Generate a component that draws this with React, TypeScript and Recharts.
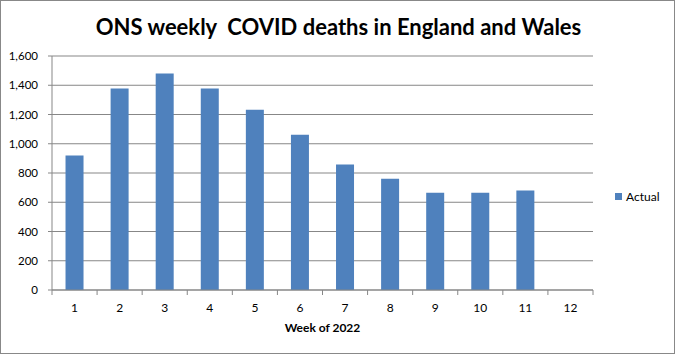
import React from 'react';
import { Bar, BarChart, CartesianGrid, XAxis, YAxis } from 'recharts';

const weeks = ['1', '2', '3', '4', '5', '6', '7', '8', '9', '10', '11', '12'];
const actual: (number | null)[] = [920, 1378, 1480, 1378, 1232, 1062, 858, 760, 665, 665, 680, null];
const yTicks = [0, 200, 400, 600, 800, 1000, 1200, 1400, 1600];
const seriesName = 'Actual';

const data = weeks.map((w, i) => ({ week: w, Actual: actual[i] }));

const FONT = 'Lato, "Open Sans", sans-serif';
const GRID = '#878787';
const BAR = '#4f81bd';
const BAND = (593 - 52) / 12;

function WeekTick(props: any) {
    const { x, y, payload, index } = props;
    const last = index === weeks.length - 1;
    return (
        <g>
            <line x1={x - BAND / 2} x2={x - BAND / 2} y1={y - 8} y2={y - 3} stroke={GRID} />
            {last && <line x1={x + BAND / 2} x2={x + BAND / 2} y1={y - 8} y2={y - 3} stroke={GRID} />}
            <text x={x} y={y + 14} textAnchor="middle" fontSize={12} fill="#000" fontFamily={FONT}>
                {payload.value}
            </text>
        </g>
    );
}

export default function App() {
    return (
        <div
            style={{
                position: 'absolute',
                left: 0,
                top: 0,
                width: 675,
                height: 354,
                border: '1px solid #888',
                boxSizing: 'border-box',
                background: '#fff',
                fontFamily: FONT,
            }}
        >
            <div
                style={{
                    position: 'absolute',
                    left: 0,
                    top: 12,
                    width: 675,
                    textAlign: 'center',
                    fontSize: 22,
                    fontWeight: 'bold',
                    whiteSpace: 'pre',
                    color: '#000',
                }}
            >
                {'ONS weekly  COVID deaths in England and Wales'}
            </div>
            <div style={{ position: 'absolute', left: -1, top: -1 }}>
                <BarChart
                    width={675}
                    height={354}
                    data={data}
                    margin={{ top: 56, right: 82, bottom: 19, left: 0 }}
                    barCategoryGap="30%"
                >
                    <CartesianGrid vertical={false} stroke={GRID} />
                    <XAxis
                        dataKey="week"
                        height={45}
                        axisLine={{ stroke: GRID }}
                        tickLine={false}
                        tick={<WeekTick />}
                        interval={0}
                        label={{
                            value: 'Week of 2022',
                            position: 'insideBottom',
                            offset: 3,
                            fontSize: 12,
                            fontWeight: 'bold',
                            fill: '#000',
                            fontFamily: FONT,
                        }}
                    />
                    <YAxis
                        width={52}
                        domain={[0, 1600]}
                        ticks={yTicks}
                        interval={0}
                        axisLine={{ stroke: GRID }}
                        tickLine={{ stroke: GRID }}
                        tickSize={4}
                        tickMargin={10}
                        tickFormatter={(v) => v.toLocaleString('en-GB')}
                        tick={{ fontSize: 11.5, fill: '#000', fontFamily: FONT }}
                    />
                    <Bar dataKey="Actual" name={seriesName} fill={BAR} isAnimationActive={false} />
                </BarChart>
            </div>
            <div
                style={{
                    position: 'absolute',
                    left: 614,
                    top: 188,
                    display: 'flex',
                    alignItems: 'center',
                    fontSize: 12,
                    color: '#000',
                }}
            >
                <span style={{ width: 7, height: 7, background: BAR, marginRight: 4, display: 'inline-block' }} />
                {seriesName}
            </div>
        </div>
    );
}
